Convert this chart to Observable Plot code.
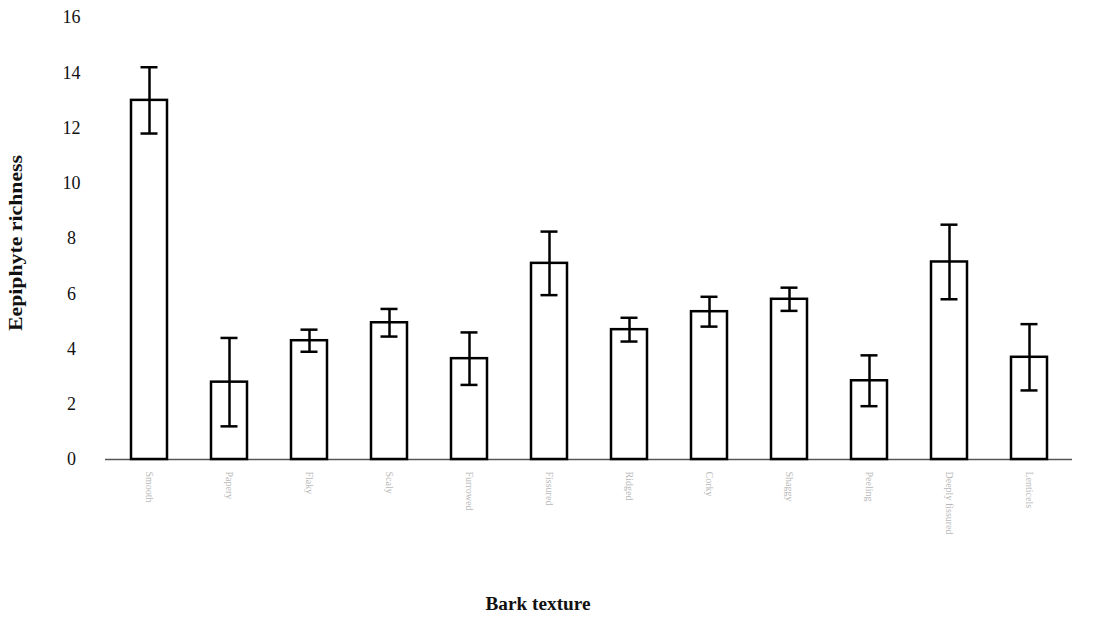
<!DOCTYPE html>
<html>
<head>
<meta charset="utf-8">
<script src="https://cdn.jsdelivr.net/npm/d3@7"></script>
<script src="https://cdn.jsdelivr.net/npm/@observablehq/plot@0.6"></script>
<style>
  html, body { margin: 0; padding: 0; background: #ffffff; }
  #chart { width: 1117px; height: 635px; }
</style>
</head>
<body>
<div id="chart"></div>
<script>
// Bark texture categories (labels in the scan are illegible; faint placeholders)
const categories = ["Smooth", "Papery", "Flaky", "Scaly", "Furrowed", "Fissured",
  "Ridged", "Corky", "Shaggy", "Peeling", "Deeply fissured", "Lenticels"];
// Mean epiphyte richness
const means = [13.0, 2.8, 4.3, 4.95, 3.65, 7.1, 4.7, 5.35, 5.8, 2.85, 7.15, 3.7];
// Error (± half-range)
const errors = [1.2, 1.6, 0.4, 0.5, 0.95, 1.15, 0.43, 0.54, 0.42, 0.92, 1.35, 1.2];
const yTicks = [0, 2, 4, 6, 8, 10, 12, 14, 16];

const data = categories.map((c, i) => ({
  cat: c, mean: means[i], lo: means[i] - errors[i], hi: means[i] + errors[i]
}));

const serif = "'Liberation Serif', 'DejaVu Serif', serif";

const chart = Plot.plot({
  width: 1117,
  height: 635,
  marginLeft: 105,
  marginRight: 45,
  marginTop: 17,
  marginBottom: 176,
  style: { fontFamily: serif, background: "#ffffff", color: "#111" },
  x: { domain: categories, paddingInner: 0.55, paddingOuter: 0.275, label: null },
  y: { domain: [0, 16], label: null },
  marks: [
    Plot.ruleY([0], { stroke: "#555", strokeWidth: 1.5 }),
    Plot.barY(data, { x: "cat", y: "mean", fill: "white", stroke: "black", strokeWidth: 2.5 }),
    Plot.ruleX(data, { x: "cat", y1: "lo", y2: "hi", stroke: "black", strokeWidth: 2.5 }),
    Plot.tickY(data, { x: "cat", y: "hi", stroke: "black", strokeWidth: 2.5, insetLeft: 9.5, insetRight: 9.5 }),
    Plot.tickY(data, { x: "cat", y: "lo", stroke: "black", strokeWidth: 2.5, insetLeft: 9.5, insetRight: 9.5 }),
    Plot.axisY({ ticks: yTicks, tickSize: 0, tickPadding: 34, textAnchor: "middle",
      fontSize: 18, label: null, tickFormat: d => String(d) }),
    Plot.axisX({ tickSize: 0, tickPadding: 12, tickRotate: 90, fontSize: 10,
      fill: "#b8b8b8", label: null })
  ]
});

const svg = d3.select(chart);
svg.append("text")
  .attr("transform", "translate(22,243) rotate(-90)")
  .attr("text-anchor", "middle")
  .attr("font-family", serif)
  .attr("font-weight", "bold")
  .attr("font-size", 18)
  .attr("textLength", 176)
  .attr("lengthAdjust", "spacingAndGlyphs")
  .attr("fill", "#111")
  .text("Eepiphyte richness");
svg.append("text")
  .attr("x", 538)
  .attr("y", 610)
  .attr("text-anchor", "middle")
  .attr("font-family", serif)
  .attr("font-weight", "bold")
  .attr("font-size", 18)
  .attr("textLength", 105)
  .attr("lengthAdjust", "spacingAndGlyphs")
  .attr("fill", "#111")
  .text("Bark texture");

document.getElementById("chart").appendChild(chart);
</script>
</body>
</html>
